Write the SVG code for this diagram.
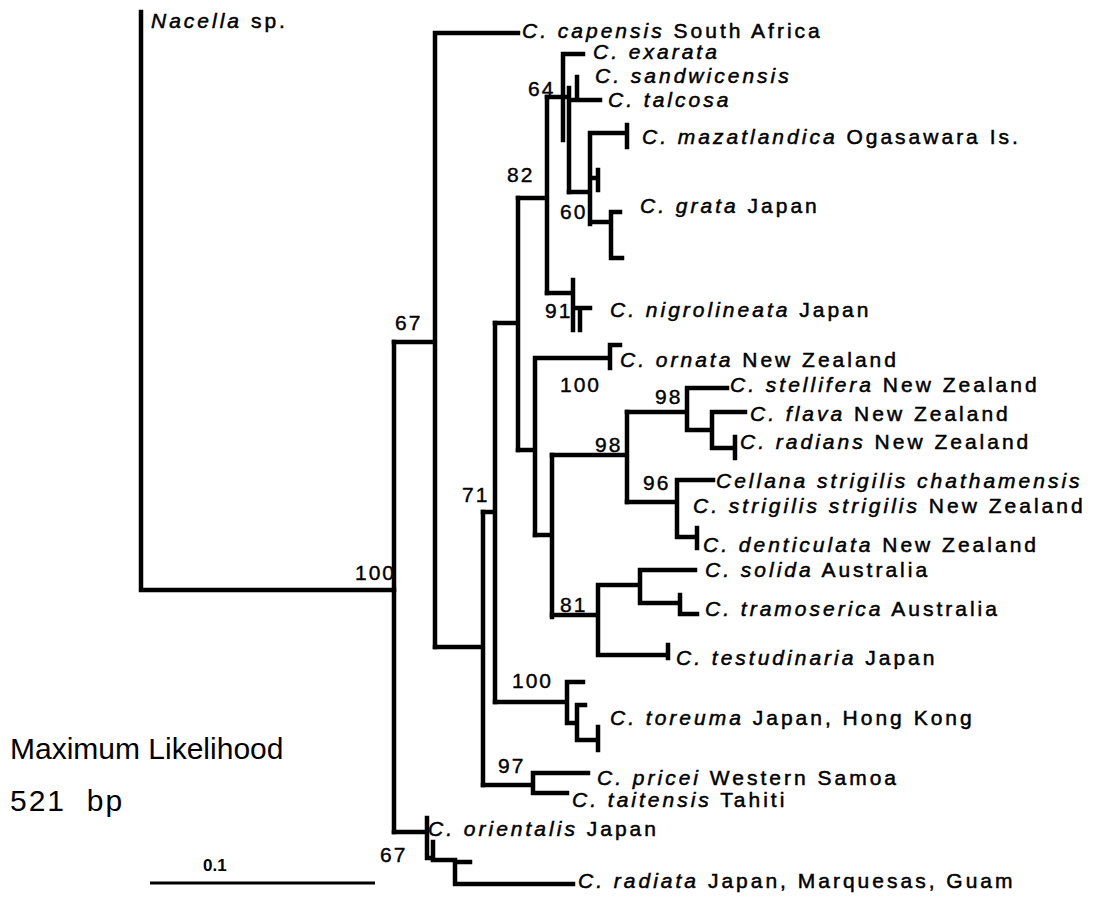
<svg xmlns="http://www.w3.org/2000/svg" width="1099" height="915" viewBox="0 0 1099 915">
<style>
.b{fill:none;stroke:#000;stroke-width:4.5;stroke-linecap:square;stroke-linejoin:miter}
.t{font-family:"Liberation Sans",Arial,sans-serif;font-size:21px;letter-spacing:3px;fill:#000;stroke:#000;stroke-width:0.5}
.i{font-style:italic}
.n{font-family:"Liberation Sans",Arial,sans-serif;font-size:21px;letter-spacing:2px;fill:#000;stroke:#000;stroke-width:0.4}
.big{font-family:"Liberation Sans",Arial,sans-serif;font-size:30px;fill:#000}
.sc{font-family:"Liberation Sans",Arial,sans-serif;font-size:17px;font-weight:bold;fill:#000}
</style>
<rect width="1099" height="915" fill="#fff"/>
<g id="connectors" class="b">
<path d="M141,12 V590 H394"/>
<path d="M394,342 V832"/>
<path d="M394,342 H435 M435,33 V647 M435,33 H518"/>
<path d="M435,647 H483 M483,512 V785"/>
<path d="M483,512 H495 M495,323 V702"/>
<path d="M495,323 H518 M518,198 V450"/>
<path d="M518,198 H547 M547,97 V293"/>
<path d="M547,97 H569 M563,54 V140 M563,54 H583 M569,88 V192 M569,100 H600 M577,77 V100"/>
<path d="M569,192 H590 M590,133 V224 M590,133 H627 M627,125 V147 M590,178 H598 M598,170 V190 M590,222 H611 M611,212 V258 M611,212 H620 M611,258 H622"/>
<path d="M547,293 H573 M573,280 V330 M573,308 H590 M580,308 V330"/>
<path d="M518,450 H535 M535,358 V535 M535,358 H610 M610,368 V345 H620"/>
<path d="M535,535 H552 M552,455 V617"/>
<path d="M552,455 H627 M627,412 V502"/>
<path d="M627,412 H687 M687,388 V430 M687,388 H727 M687,430 H712 M712,412 V448 M712,412 H745 M712,448 H735 M735,437 V458"/>
<path d="M627,502 H677 M677,480 V537 M677,480 H713 M677,537 H697 M697,528 V548"/>
<path d="M552,615 H598 M598,585 V655 M598,585 H640 M640,570 V603 M640,570 H695 M640,603 H680 M680,595 V614 H697 M598,655 H668 M668,645 V658"/>
<path d="M495,702 H567 M567,682 V723 M567,682 H583 M567,723 H577 M577,705 V740 M577,705 H585 M577,740 H598 M598,727 V750"/>
<path d="M483,785 H533 M533,773 V793 M533,773 H588 M533,793 H567"/>
<path d="M394,832 H427 M427,818 V858 H433 M433,842 V860 H455 M455,862 V884 M455,862 H470 M455,884 H573"/>
</g>
<g id="scale">
<path d="M150,883 H375" fill="none" stroke="#000" stroke-width="3"/>
<text class="sc" x="203" y="871">0.1</text>
</g>
<g id="title"><text class="big" x="10" y="759">Maximum Likelihood</text><text class="big" x="10" y="811" letter-spacing="2" xml:space="preserve">521  bp</text></g>
<g id="leaf-nacella"><text class="t" x="151" y="28"><tspan class="i">Nacella</tspan> sp.</text></g>
<g id="leaf-capensis"><text class="t" x="522" y="38"><tspan class="i">C. capensis</tspan> South Africa</text></g>
<g id="leaf-exarata"><text class="t i" x="593" y="59">C. exarata</text></g>
<g id="leaf-sandwicensis"><text class="t i" x="595" y="83">C. sandwicensis</text></g>
<g id="leaf-talcosa"><text class="t i" x="608" y="107">C. talcosa</text></g>
<g id="leaf-mazatlandica"><text class="t" x="642" y="144"><tspan class="i">C. mazatlandica</tspan> Ogasawara Is.</text></g>
<g id="leaf-grata"><text class="t" x="640" y="213"><tspan class="i">C. grata</tspan> Japan</text></g>
<g id="leaf-nigrolineata"><text class="t" x="610" y="317"><tspan class="i">C. nigrolineata</tspan> Japan</text></g>
<g id="leaf-ornata"><text class="t" x="620" y="367"><tspan class="i">C. ornata</tspan> New Zealand</text></g>
<g id="leaf-stellifera"><text class="t" x="730" y="392"><tspan class="i">C. stellifera</tspan> New Zealand</text></g>
<g id="leaf-flava"><text class="t" x="750" y="421"><tspan class="i">C. flava</tspan> New Zealand</text></g>
<g id="leaf-radians"><text class="t" x="740" y="449"><tspan class="i">C. radians</tspan> New Zealand</text></g>
<g id="leaf-chathamensis"><text class="t i" x="716" y="488">Cellana strigilis chathamensis</text></g>
<g id="leaf-strigilis"><text class="t" x="693" y="513"><tspan class="i">C. strigilis strigilis</tspan> New Zealand</text></g>
<g id="leaf-denticulata"><text class="t" x="703" y="552"><tspan class="i">C. denticulata</tspan> New Zealand</text></g>
<g id="leaf-solida"><text class="t" x="705" y="577"><tspan class="i">C. solida</tspan> Australia</text></g>
<g id="leaf-tramoserica"><text class="t" x="705" y="616"><tspan class="i">C. tramoserica</tspan> Australia</text></g>
<g id="leaf-testudinaria"><text class="t" x="676" y="665"><tspan class="i">C. testudinaria</tspan> Japan</text></g>
<g id="leaf-toreuma"><text class="t" x="610" y="725"><tspan class="i">C. toreuma</tspan> Japan, Hong Kong</text></g>
<g id="leaf-pricei"><text class="t" x="597" y="785"><tspan class="i">C. pricei</tspan> Western Samoa</text></g>
<g id="leaf-taitensis"><text class="t" x="572" y="807"><tspan class="i">C. taitensis</tspan> Tahiti</text></g>
<g id="leaf-orientalis"><text class="t" x="428" y="836"><tspan class="i">C. orientalis</tspan> Japan</text></g>
<g id="leaf-radiata"><text class="t" x="578" y="888"><tspan class="i">C. radiata</tspan> Japan, Marquesas, Guam</text></g>
<g id="node-root"><text class="n" x="355" y="580">100</text></g>
<g id="node-67a"><text class="n" x="395" y="330">67</text></g>
<g id="node-82"><text class="n" x="507" y="182">82</text></g>
<g id="node-64"><text class="n" x="528" y="96">64</text></g>
<g id="node-60"><text class="n" x="560" y="219">60</text></g>
<g id="node-91"><text class="n" x="545" y="318">91</text></g>
<g id="node-100b"><text class="n" x="560" y="392">100</text></g>
<g id="node-98a"><text class="n" x="655" y="404">98</text></g>
<g id="node-98b"><text class="n" x="595" y="452">98</text></g>
<g id="node-96"><text class="n" x="643" y="490">96</text></g>
<g id="node-71"><text class="n" x="462" y="502">71</text></g>
<g id="node-81"><text class="n" x="560" y="612">81</text></g>
<g id="node-100c"><text class="n" x="512" y="688">100</text></g>
<g id="node-97"><text class="n" x="498" y="773">97</text></g>
<g id="node-67b"><text class="n" x="380" y="862">67</text></g>
</svg>
